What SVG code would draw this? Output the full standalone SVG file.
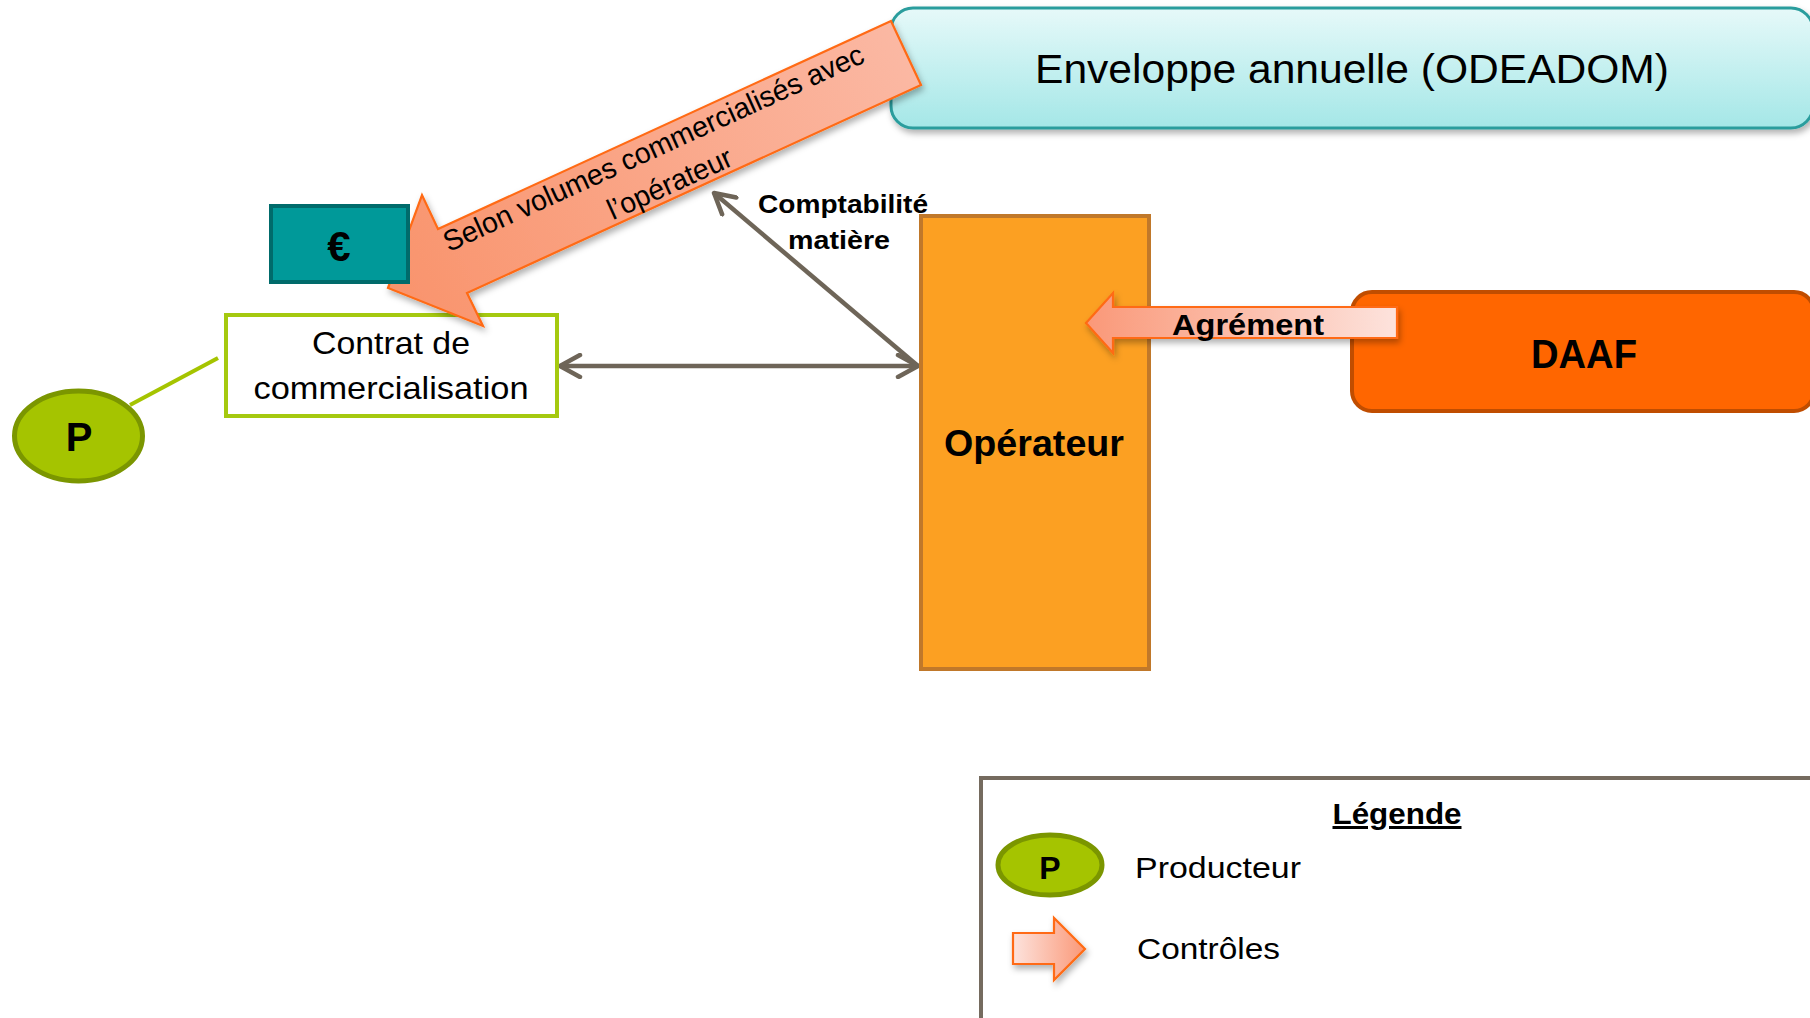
<svg xmlns="http://www.w3.org/2000/svg" width="1810" height="1018" viewBox="0 0 1810 1018">
<defs>
<style>
.t{font-family:"Liberation Sans",Arial,sans-serif;fill:#000}
.b{font-weight:bold}
.gray{stroke:#6e6558;stroke-width:4.5;fill:none}
.ctl{stroke:#ff6a13;stroke-width:2.2;stroke-linejoin:miter}
</style>
<linearGradient id="envG" x1="0" y1="0" x2="0" y2="1">
<stop offset="0" stop-color="#e6f9f9"/>
<stop offset="1" stop-color="#a4e7e7"/>
</linearGradient>
<linearGradient id="bigG" gradientUnits="userSpaceOnUse" x1="906" y1="53" x2="400" y2="290">
<stop offset="0" stop-color="#fbb8a3"/>
<stop offset="1" stop-color="#f9946d"/>
</linearGradient>
<linearGradient id="agrG" gradientUnits="userSpaceOnUse" x1="1086" y1="0" x2="1397" y2="0">
<stop offset="0" stop-color="#fa9878"/>
<stop offset="1" stop-color="#fde3dd"/>
</linearGradient>
<linearGradient id="legG" gradientUnits="userSpaceOnUse" x1="1013" y1="0" x2="1085" y2="0">
<stop offset="0" stop-color="#fde3dd"/>
<stop offset="1" stop-color="#fa9878"/>
</linearGradient>
<filter id="sh" x="-10%" y="-10%" width="130%" height="140%">
<feDropShadow dx="2" dy="4" stdDeviation="3" flood-color="#000" flood-opacity="0.3"/>
</filter>
<marker id="chev" viewBox="0 0 26 26" refX="23" refY="13" markerWidth="26" markerHeight="26" markerUnits="userSpaceOnUse" orient="auto-start-reverse">
<path d="M3,2 L23,13 L3,24" fill="none" stroke="#6e6558" stroke-width="4.5" stroke-linecap="round" stroke-linejoin="round"/>
</marker>
</defs>
<rect width="1810" height="1018" fill="#fff"/>

<g id="enveloppe">
<rect x="891" y="8" width="922" height="120" rx="22" fill="url(#envG)" stroke="#2a9d9d" stroke-width="3" filter="url(#sh)"/>
<text class="t" x="1352" y="83" font-size="40" text-anchor="middle" textLength="634" lengthAdjust="spacingAndGlyphs">Enveloppe annuelle (ODEADOM)</text>
</g>

<g id="connectors">
<line x1="130" y1="405" x2="218" y2="358" stroke="#a5c400" stroke-width="4"/>
<line class="gray" x1="560" y1="366" x2="918" y2="366" marker-start="url(#chev)" marker-end="url(#chev)"/>
<line class="gray" x1="918" y1="366" x2="714" y2="193" marker-end="url(#chev)"/>
</g>

<g id="contrat">
<rect x="226" y="315" width="331" height="101" fill="#fff" stroke="#a5c90f" stroke-width="4"/>
<text class="t" x="391" y="354" font-size="32" text-anchor="middle" textLength="158" lengthAdjust="spacingAndGlyphs">Contrat de</text>
<text class="t" x="391" y="399" font-size="32" text-anchor="middle" textLength="275" lengthAdjust="spacingAndGlyphs">commercialisation</text>
</g>

<g id="producteur">
<ellipse cx="78.5" cy="436" rx="64" ry="45" fill="#a5c400" stroke="#7b9600" stroke-width="5"/>
<text class="t b" x="79" y="451" font-size="40" text-anchor="middle">P</text>
</g>

<g id="fleche-volumes">
<polygon class="ctl" points="891,21 438,229 422,195 388,288 483,326 467,293 921,85" fill="url(#bigG)" filter="url(#sh)"/>
<g transform="translate(657.5,157) rotate(-24.5)">
<text class="t" x="0" y="0" font-size="29" text-anchor="middle" textLength="459" lengthAdjust="spacingAndGlyphs">Selon volumes commercialisés avec</text>
<text class="t" x="0" y="39" font-size="29" text-anchor="middle" textLength="134" lengthAdjust="spacingAndGlyphs">l’opérateur</text>
</g>
</g>

<g id="euro">
<rect x="271" y="206" width="137" height="76" fill="#009999" stroke="#006b6b" stroke-width="4"/>
<text class="t b" x="339" y="261" font-size="42" text-anchor="middle">€</text>
</g>

<g id="comptabilite">
<text class="t b" x="843" y="213" font-size="26" text-anchor="middle" textLength="170" lengthAdjust="spacingAndGlyphs">Comptabilité</text>
<text class="t b" x="839" y="249" font-size="26" text-anchor="middle" textLength="102" lengthAdjust="spacingAndGlyphs">matière</text>
</g>

<g id="operateur">
<rect x="921" y="216" width="228" height="453" fill="#fca022" stroke="#c0782a" stroke-width="4"/>
<text class="t b" x="1034" y="456" font-size="36" text-anchor="middle" textLength="180" lengthAdjust="spacingAndGlyphs">Opérateur</text>
</g>

<g id="daaf">
<rect x="1352" y="292" width="462" height="119" rx="20" fill="#ff6600" stroke="#c04d00" stroke-width="4"/>
<text class="t b" x="1584" y="368" font-size="41" text-anchor="middle" textLength="106" lengthAdjust="spacingAndGlyphs">DAAF</text>
</g>

<g id="agrement">
<polygon class="ctl" points="1086,323 1113,293 1113,307 1397,307 1397,338 1113,338 1113,353" fill="url(#agrG)" filter="url(#sh)"/>
<text class="t b" x="1248" y="335" font-size="29" text-anchor="middle" textLength="152" lengthAdjust="spacingAndGlyphs">Agrément</text>
</g>

<g id="legende">
<rect x="981" y="778" width="900" height="300" fill="#fff" stroke="#756b5f" stroke-width="4"/>
<text class="t b" x="1397" y="824" font-size="30" text-anchor="middle" text-decoration="underline" textLength="129" lengthAdjust="spacingAndGlyphs">Légende</text>
<ellipse cx="1050" cy="865" rx="52" ry="30" fill="#a5c400" stroke="#7b9600" stroke-width="5"/>
<text class="t b" x="1050" y="879" font-size="32" text-anchor="middle">P</text>
<text class="t" x="1135" y="878" font-size="29" textLength="166" lengthAdjust="spacingAndGlyphs">Producteur</text>
<polygon class="ctl" points="1013,933 1054,933 1054,918 1085,949 1054,980 1054,964 1013,964" fill="url(#legG)" filter="url(#sh)"/>
<text class="t" x="1137" y="959" font-size="29" textLength="143" lengthAdjust="spacingAndGlyphs">Contrôles</text>
</g>
</svg>
